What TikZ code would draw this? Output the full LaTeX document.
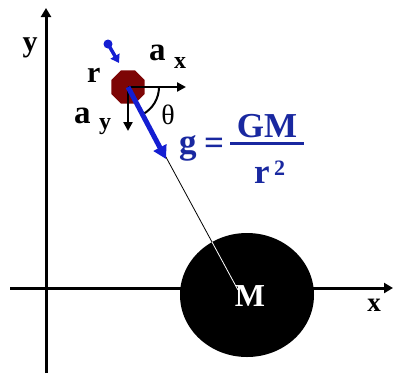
\documentclass[tikz,border=0pt]{standalone}
\usepackage{fontspec}
\setmainfont{Liberation Serif}
\usetikzlibrary{arrows.meta,shapes.geometric,calc}
\definecolor{ballred}{RGB}{125,5,5}
\definecolor{arrblue}{RGB}{20,30,210}
\definecolor{eqblue}{RGB}{25,40,160}
\tikzset{
  lbl/.style={inner sep=0pt,font=\fontsize{30}{30}\selectfont\bfseries},
  albl/.style={inner sep=0pt,font=\fontsize{33}{33}\selectfont\bfseries},
  sublbl/.style={inner sep=0pt,font=\fontsize{24}{24}\selectfont\bfseries},
  eq/.style={inner sep=0pt,text=eqblue,font=\fontsize{35}{35}\selectfont\bfseries},
  axis/.style={line width=3pt,-{Triangle[length=9pt,width=10pt]}},
  comp/.style={line width=2.5pt,-{Triangle[length=9pt,width=9pt]}}
}
\begin{document}
\begin{tikzpicture}[x=1pt,y=-1pt]
\useasboundingbox[fill=white] (0,0) rectangle (393,373);
% axes
\coordinate (ybot) at (46,373);
\coordinate (ytop) at (46,8);
\coordinate (xl) at (10,288);
\coordinate (xr) at (393,288);
\draw[axis] (ybot) -- (ytop);
\draw[axis] (xl) -- (xr);
\node[lbl,anchor=base] (ylab) at (30,51) {y};
\node[inner sep=0pt,anchor=base,font=\fontsize{27}{27}\selectfont\bfseries] (xlab) at (374,311) {x};
% mass M
\node[ellipse,fill=black,minimum width=134pt,minimum height=124pt,inner sep=0pt] (M) at (247,295) {};
\coordinate (lend) at (238,290);
% ball
\node[regular polygon,regular polygon sides=8,fill=ballred,minimum size=36pt,inner sep=0pt] (ball) at (128,87) {};
% connecting line
\draw[line width=0.8pt] (ball.center) -- (lend);
\begin{scope}
\clip (247,295) ellipse (67 and 62);
\draw[white,line width=0.8pt] (ball.center) -- (lend);
\end{scope}
\node[inner sep=0pt,text=white,anchor=base,font=\fontsize{32}{32}\selectfont\bfseries] (Mlab) at (250,306) {M};
% components
\coordinate (axend) at (186,87);
\coordinate (ayend) at (128,131);
\draw[comp] (ball.center) -- (axend);
\draw[comp] (ball.center) -- (ayend);
% theta arc
\draw[line width=2pt] ($(ball.center)+(31,0)$) arc[start angle=0,end angle=62,radius=31];
% g arrow
\coordinate (gtip) at (166,159);
\draw[arrblue,line width=5pt,-{Triangle[length=13pt,width=14pt]}] (ball.center) -- (gtip);
% small blue arrow
\coordinate (sa) at (108,44);
\coordinate (sb) at (119,63);
\fill[arrblue] (sa) circle (4.5);
\draw[arrblue,line width=3.5pt,-{Triangle[length=8pt,width=10pt]}] (sa) -- (sb);
% labels
\node[lbl,anchor=base west] (r) at (87,82) {r};
\node[albl,anchor=base west] (ax) at (149,60) {a};
\node[sublbl,anchor=base west] (axs) at (174,68) {x};
\node[albl,anchor=base west] (ay) at (74,123) {a};
\node[sublbl,anchor=base west] (ays) at (99,129) {y};
\node[inner sep=0pt,font=\fontsize{28}{28}\selectfont] (th) at (168,115) {θ};
% equation
\node[eq,anchor=base west] (g) at (179,153) {g};
\node[eq] (eqs) at (214,146) {=};
\coordinate (barl) at (230,143);
\coordinate (barr) at (304,143);
\draw[eqblue,line width=3pt] (barl) -- (barr);
\node[eq,anchor=base] (GM) at (267,137) {GM};
\node[eq,anchor=base west] (rr) at (254,183) {r};
\node[inner sep=0pt,text=eqblue,anchor=base west,font=\fontsize{22}{22}\selectfont\bfseries] (two) at (274,175) {2};
\end{tikzpicture}
\end{document}
